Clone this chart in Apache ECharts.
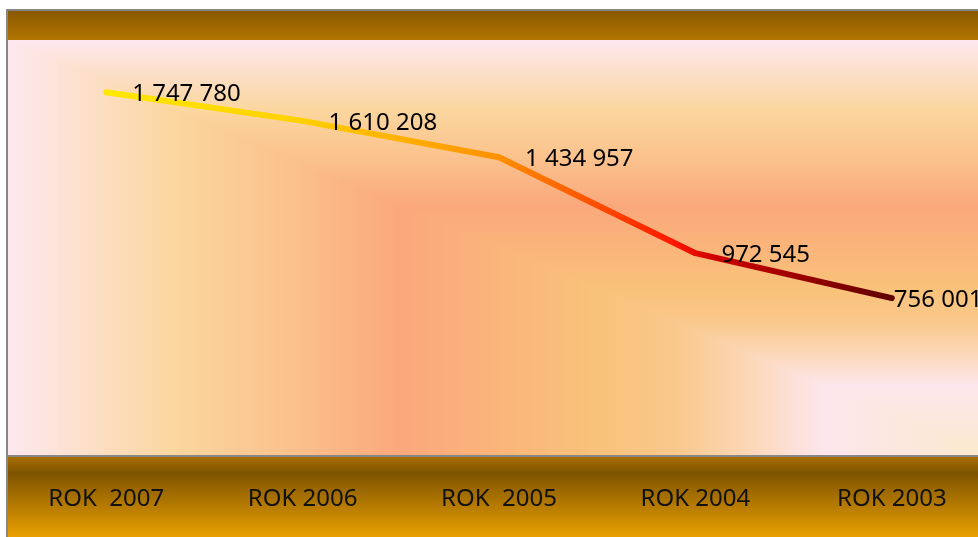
<!DOCTYPE html>
<html>
<head>
<meta charset="utf-8">
<script src="https://cdn.jsdelivr.net/npm/echarts@6/dist/echarts.min.js"></script>
<style>
  html, body { margin: 0; padding: 0; background: #fff; }
  #main { width: 978px; height: 537px; }
</style>
</head>
<body>
<div id="main"></div>
<script>
// dane
var categories = ['ROK  2007', 'ROK 2006', 'ROK  2005', 'ROK 2004', 'ROK 2003'];
var values = [1747780, 1610208, 1434957, 972545, 756001];
var yMin = 0;
var yMax = 2000000;

// obszar wykresu (px)
var L = 8, T = 40, W = 982, H = 415;
var R = L + W, B = T + H;

var font = '"Noto Sans", "Open Sans", sans-serif';

// gradient "od rogu" - 0 w prawym dolnym rogu, 1 przy krawedzi
var bgStops = [
  { offset: 0, color: '#fbeacb' },
  { offset: 0.06, color: '#fbe8d8' },
  { offset: 0.17, color: '#fde6ec' },
  { offset: 0.25, color: '#fcd6b4' },
  { offset: 0.32, color: '#f9c88c' },
  { offset: 0.40, color: '#f9c27a' },
  { offset: 0.47, color: '#fab97a' },
  { offset: 0.60, color: '#faa87c' },
  { offset: 0.72, color: '#fbc38e' },
  { offset: 0.83, color: '#fbd69e' },
  { offset: 0.90, color: '#fcddbf' },
  { offset: 0.95, color: '#fde3d8' },
  { offset: 1, color: '#fde8ef' }
];

function fmt(v) {
  return String(v).replace(/\B(?=(\d{3})+(?!\d))/g, ' ');
}

var chart = echarts.init(document.getElementById('main'), null, { renderer: 'canvas' });

var option = {
  backgroundColor: '#fff',
  animation: false,
  grid: { left: L, top: T, width: W, height: H, outerBoundsMode: 'none', containLabel: false },
  xAxis: {
    type: 'category',
    data: categories,
    boundaryGap: true,
    z: 10,
    axisLine: { show: false },
    axisTick: { show: false },
    axisLabel: {
      margin: 32,
      fontSize: 24,
      lineHeight: 24,
      fontFamily: font,
      color: '#111'
    }
  },
  yAxis: {
    type: 'value',
    min: yMin,
    max: yMax,
    show: false,
    splitLine: { show: false }
  },
  graphic: [
    // tlo obszaru wykresu: caly prostokat + trojkat lewy-dolny
    {
      type: 'rect', z: -10, silent: true,
      shape: { x: L, y: T, width: W, height: H },
      style: { fill: new echarts.graphic.LinearGradient(0, 1, 0, 0, bgStops) }
    },
    {
      type: 'polygon', z: -10, silent: true,
      shape: { points: [[R, B], [L, B], [L, T]] },
      style: { fill: new echarts.graphic.LinearGradient(1, 0, 0, 0, bgStops) }
    },
    // gorny pasek
    {
      type: 'rect', z: -9, silent: true,
      shape: { x: L, y: 11, width: 980, height: T - 11 },
      style: {
        fill: new echarts.graphic.LinearGradient(0, 0, 0, 1, [
          { offset: 0, color: '#895900' },
          { offset: 1, color: '#b27500' }
        ])
      }
    },
    // dolny pasek z kategoriami
    {
      type: 'rect', z: -9, silent: true,
      shape: { x: L, y: B + 2, width: 980, height: 537 - B - 2 },
      style: {
        fill: new echarts.graphic.LinearGradient(0, 0, 0, 1, [
          { offset: 0, color: '#a86d00' },
          { offset: 0.2, color: '#7e5300' },
          { offset: 1, color: '#eaa000' }
        ])
      }
    },
    // ramki
    {
      type: 'line', z: -8, silent: true,
      shape: { x1: 7, y1: 10, x2: 7, y2: 537 },
      style: { stroke: '#878787', lineWidth: 2 }
    },
    {
      type: 'line', z: -8, silent: true,
      shape: { x1: 6, y1: 10, x2: 978, y2: 10 },
      style: { stroke: '#878787', lineWidth: 2 }
    },
    {
      type: 'line', z: -8, silent: true,
      shape: { x1: 8, y1: B + 1, x2: 978, y2: B + 1 },
      style: { stroke: '#878787', lineWidth: 2 }
    }
  ],
  series: [{
    type: 'line',
    data: values.map(function (v, i) {
      // ostatnia etykieta przy samym punkcie (jak w oryginale)
      return i === values.length - 1 ? { value: v, label: { distance: 1 } } : v;
    }),
    symbol: 'circle',
    symbolSize: 2,
    itemStyle: { color: 'rgba(0,0,0,0)' },
    lineStyle: {
      width: 6,
      cap: 'round',
      join: 'round',
      color: new echarts.graphic.LinearGradient(0, 0, 1, 0, [
        { offset: 0, color: '#ffe800' },
        { offset: 0.25, color: '#ffd000' },
        { offset: 0.5, color: '#ff9000' },
        { offset: 0.72, color: '#ff1800' },
        { offset: 0.77, color: '#d00000' },
        { offset: 1, color: '#5e0000' }
      ])
    },
    label: {
      show: true,
      position: 'right',
      distance: 25,
      offset: [0, 2],
      fontSize: 24,
      fontFamily: font,
      color: '#000',
      formatter: function (p) { return fmt(p.value); }
    }
  }]
};

chart.setOption(option);
</script>
</body>
</html>
